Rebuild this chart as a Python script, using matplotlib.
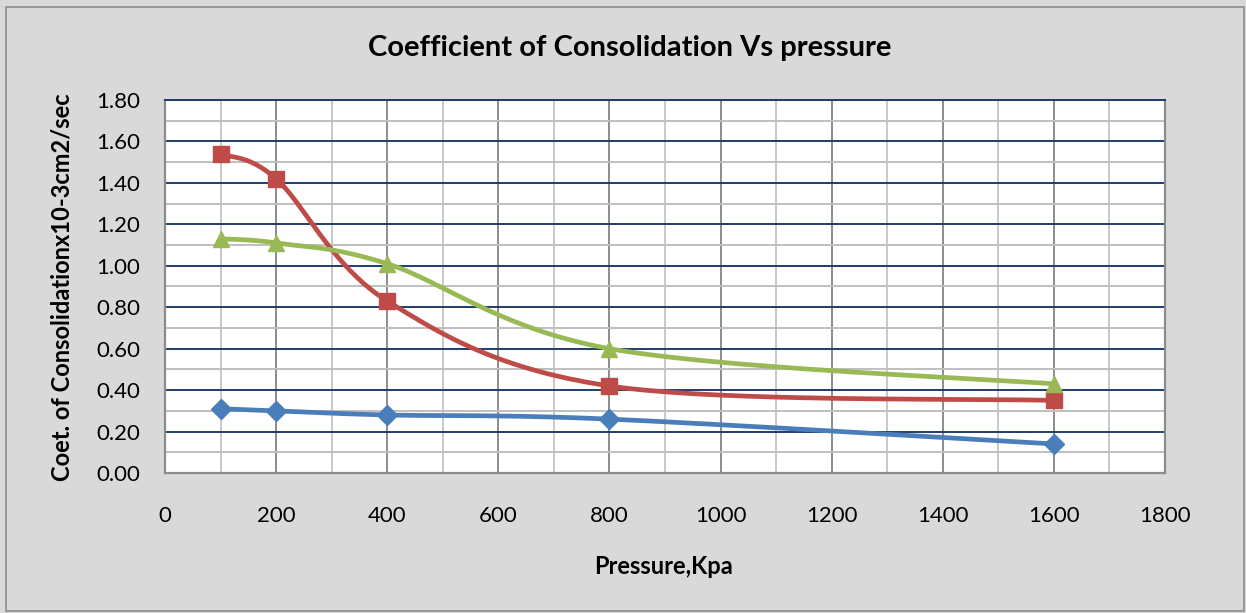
import numpy as np
import matplotlib.pyplot as plt
from matplotlib.patches import Rectangle
from matplotlib.ticker import MultipleLocator

pressure = [100, 200, 400, 800, 1600]
cv_blue = [0.31, 0.30, 0.28, 0.26, 0.14]
cv_red = [1.54, 1.42, 0.83, 0.42, 0.35]
cv_green = [1.13, 1.11, 1.01, 0.60, 0.43]

x_ticks = [0, 200, 400, 600, 800, 1000, 1200, 1400, 1600, 1800]
y_ticks = [0.0, 0.2, 0.4, 0.6, 0.8, 1.0, 1.2, 1.4, 1.6, 1.8]


def smooth(xs, ys, n=40):
    # cubic bezier through the points, Catmull-Rom style control points
    p = np.column_stack([xs, ys]).astype(float)
    pts = np.vstack([p[0], p, p[-1]])
    out = []
    for i in range(1, len(pts) - 2):
        p0, p1, p2, p3 = pts[i - 1], pts[i], pts[i + 1], pts[i + 2]
        c1 = p1 + (p2 - p0) / 6.0
        c2 = p2 - (p3 - p1) / 6.0
        t = np.linspace(0, 1, n)[:, None]
        seg = ((1 - t) ** 3) * p1 + 3 * ((1 - t) ** 2) * t * c1 \
            + 3 * (1 - t) * t ** 2 * c2 + t ** 3 * p2
        out.append(seg if i == 1 else seg[1:])
    seg = np.vstack(out)
    return seg[:, 0], seg[:, 1]


plt.rcParams['font.family'] = ['Lato', 'DejaVu Sans']

fig = plt.figure(figsize=(12.46, 6.13), dpi=100)
fig.patch.set_facecolor('#D9D9D9')
fig.patches.append(Rectangle((0.005, 0.003), 0.993, 0.985, transform=fig.transFigure,
                             fill=False, edgecolor='#8C8C8C', linewidth=1.2))

ax = fig.add_axes([0.1324, 0.2284, 0.8026, 0.6085])
ax.set_facecolor('white')

ax.set_xlim(0, 1800)
ax.set_ylim(0, 1.8)
ax.set_xticks(x_ticks)
ax.set_yticks(y_ticks)
ax.set_yticklabels(['%.2f' % v for v in y_ticks])
ax.xaxis.set_minor_locator(MultipleLocator(100))
ax.yaxis.set_minor_locator(MultipleLocator(0.1))

ax.grid(which='major', axis='y', color='#1F3D6B', linewidth=1.4, zorder=1)
ax.grid(which='minor', axis='y', color='#BFBFBF', linewidth=1.4, zorder=0)
ax.grid(which='major', axis='x', color='#8C8C8C', linewidth=1.4, zorder=1)
ax.grid(which='minor', axis='x', color='#C8C8C8', linewidth=1.4, zorder=0)
ax.tick_params(which='both', length=0, labelsize=16)
ax.tick_params(axis='y', pad=18)
ax.tick_params(axis='x', pad=24)

for side in ['left', 'bottom', 'right']:
    ax.spines[side].set_color('#8C8C8C')
    ax.spines[side].set_linewidth(1.6)
ax.spines['top'].set_color('#1F3D6B')
ax.spines['top'].set_linewidth(1.4)

series = [
    (cv_blue, '#4A7EBB', 'D', 10),
    (cv_red, '#BE4B48', 's', 11),
    (cv_green, '#98B954', '^', 11),
]
for ys, color, marker, ms in series:
    sx, sy = smooth(pressure, ys)
    ax.plot(sx, sy, color=color, linewidth=3.4, zorder=3, solid_capstyle='round')
    ax.plot(pressure, ys, linestyle='none', marker=marker, markersize=ms,
            color=color, zorder=4)

fig.text(630 / 1246, 1 - 48 / 613, 'Coefficient of Consolidation Vs pressure',
         ha='center', va='center', fontsize=21, fontweight='bold')
fig.text(664 / 1246, 1 - 566 / 613, 'Pressure,Kpa',
         ha='center', va='center', fontsize=17, fontweight='bold')
fig.text(62 / 1246, 1 - 287 / 613, 'Coet. of Consolidationx10-3cm2/sec',
         ha='center', va='center', rotation=90, fontsize=17, fontweight='bold')

fig.savefig('out.png', dpi=100, facecolor=fig.get_facecolor())
